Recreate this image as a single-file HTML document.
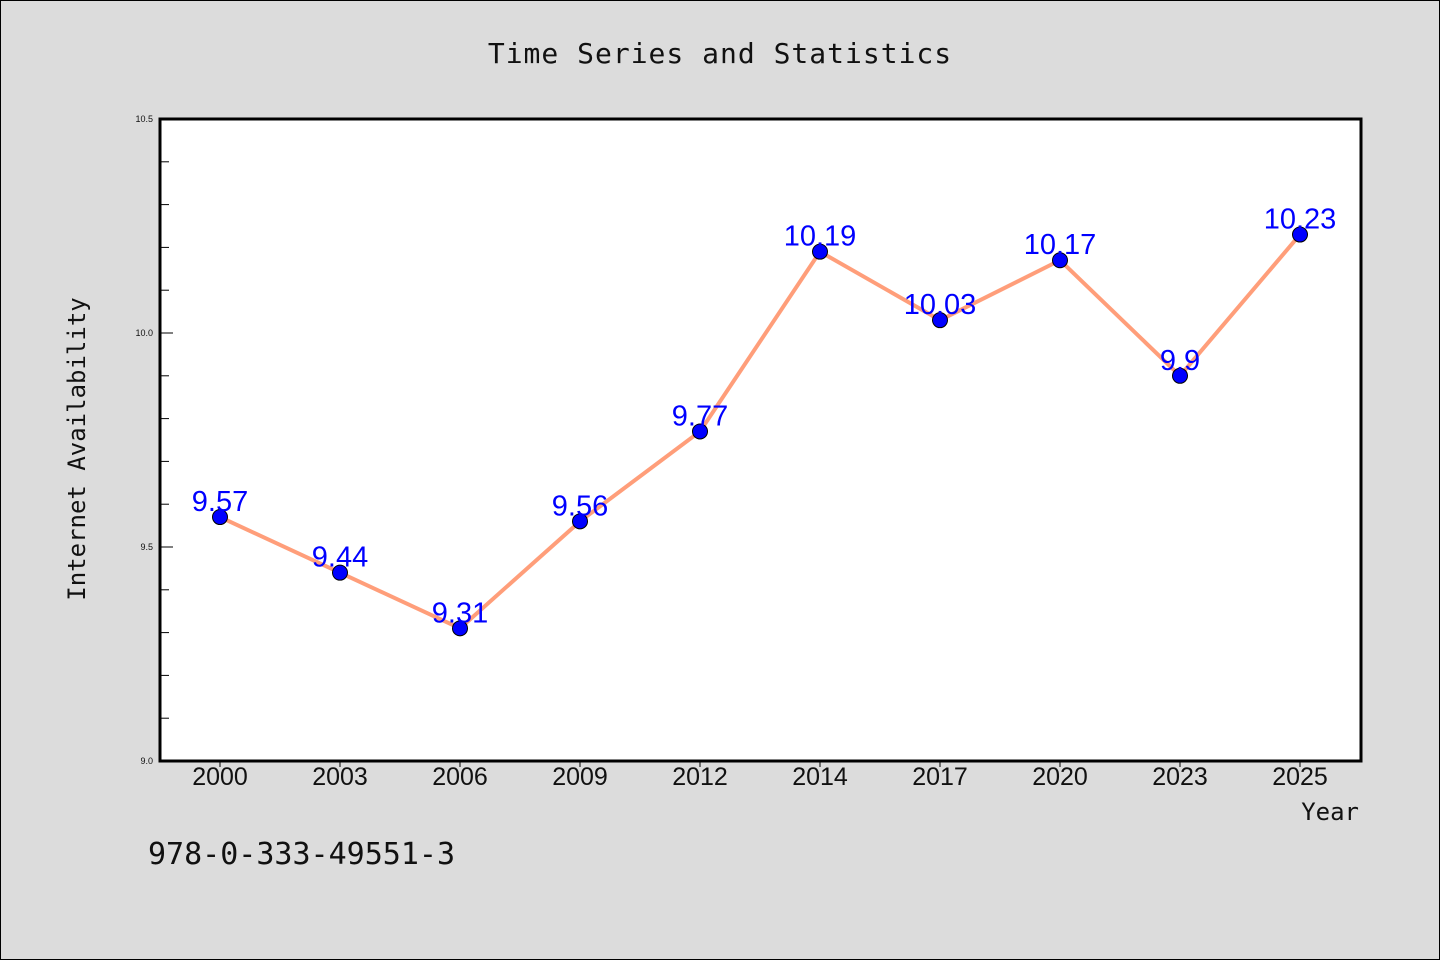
<!DOCTYPE html>
<html><head><meta charset="utf-8"><style>
html,body{margin:0;padding:0;background:#dcdcdc;}
svg{display:block;}
text{font-family:"Liberation Sans","DejaVu Sans",sans-serif;}
.mono{font-family:"DejaVu Sans Mono","Liberation Mono",monospace;}
</style></head><body>
<svg id="chart" width="1440" height="960" xmlns="http://www.w3.org/2000/svg">
<rect x="0.5" y="0.5" width="1439" height="959" fill="#dcdcdc" stroke="#000" stroke-width="1"/>
<text class="mono" x="720" y="63" text-anchor="middle" font-size="28" letter-spacing="1" fill="#111">Time Series and Statistics</text>
<rect x="160" y="119" width="1201" height="642" fill="#fff"/>
<g id="yaxis"></g>
<g id="xaxis"></g>
<g id="series"></g>
<rect x="160" y="119" width="1201" height="642" fill="none" stroke="#000" stroke-width="3"/>
<text class="mono" x="85" y="449" text-anchor="middle" font-size="24" fill="#111" transform="rotate(-90 85 449)">Internet Availability</text>
<text class="mono" x="1359" y="820" text-anchor="end" font-size="24" fill="#111">Year</text>
<text class="mono" x="148" y="864" font-size="30" fill="#111">978-0-333-49551-3</text>
</svg>
<script>
const categories = ["2000","2003","2006","2009","2012","2014","2017","2020","2023","2025"];
const values = [9.57,9.44,9.31,9.56,9.77,10.19,10.03,10.17,9.9,10.23];
const valueLabels = ["9.57","9.44","9.31","9.56","9.77","10.19","10.03","10.17","9.9","10.23"];
const yTicks = ["9.0","9.5","10.0","10.5"];
const yMin = 9.0, yMax = 10.5;
const NS = "http://www.w3.org/2000/svg";
const plotLeft = 160, plotTop = 119, plotBottom = 761;
function xPos(i){ return 220 + i * 120; }
function yPos(v){ return plotBottom - (v - yMin) / (yMax - yMin) * (plotBottom - plotTop); }
function mk(tag, attrs, parent){ const e = document.createElementNS(NS, tag); for (const k in attrs) e.setAttribute(k, attrs[k]); parent.appendChild(e); return e; }
const yg = document.getElementById('yaxis');
for (let k = 0; k <= 15; k++) {
  const v = yMin + k * 0.1;
  const y = yPos(v);
  const major = k % 5 === 0;
  const t = mk('line', {x1: plotLeft, x2: plotLeft + (major ? 13 : 9), y1: y, y2: y, stroke: '#000', 'stroke-width': 1}, yg);
  
  
}
yTicks.forEach(s => {
  const y = yPos(parseFloat(s));
  const t = mk('text', {x: 153, y: y + 3, 'text-anchor': 'end', 'font-size': 9, fill: '#111'}, yg);
  t.textContent = s;
  
  
});
const xg = document.getElementById('xaxis');
categories.forEach((c, i) => {
  const x = xPos(i);
  const tk = mk('line', {x1: x, x2: x, y1: plotBottom, y2: plotBottom + 6, stroke: '#000', 'stroke-width': 1}, xg);
  
  
  const t = mk('text', {x: x, y: plotBottom + 24, 'text-anchor': 'middle', 'font-size': 25, fill: '#111'}, xg);
  t.textContent = c;
  
  
});
const sg = document.getElementById('series');
const pts = values.map((v, i) => xPos(i) + ',' + yPos(v)).join(' ');
const line = mk('polyline', {points: pts, fill: 'none', stroke: '#ff9e7a', 'stroke-width': 4, 'stroke-linejoin': 'round'}, sg);


values.forEach((v, i) => {
  const c = mk('circle', {cx: xPos(i), cy: yPos(v), r: 7.5, fill: '#0000ff', stroke: '#000', 'stroke-width': 1}, sg);
  
  
});
values.forEach((v, i) => {
  const t = mk('text', {x: xPos(i), y: yPos(v) - 6, 'text-anchor': 'middle', 'font-size': 29, fill: '#0000ff'}, sg);
  t.textContent = valueLabels[i];
  
  
});
</script>
</body></html>
